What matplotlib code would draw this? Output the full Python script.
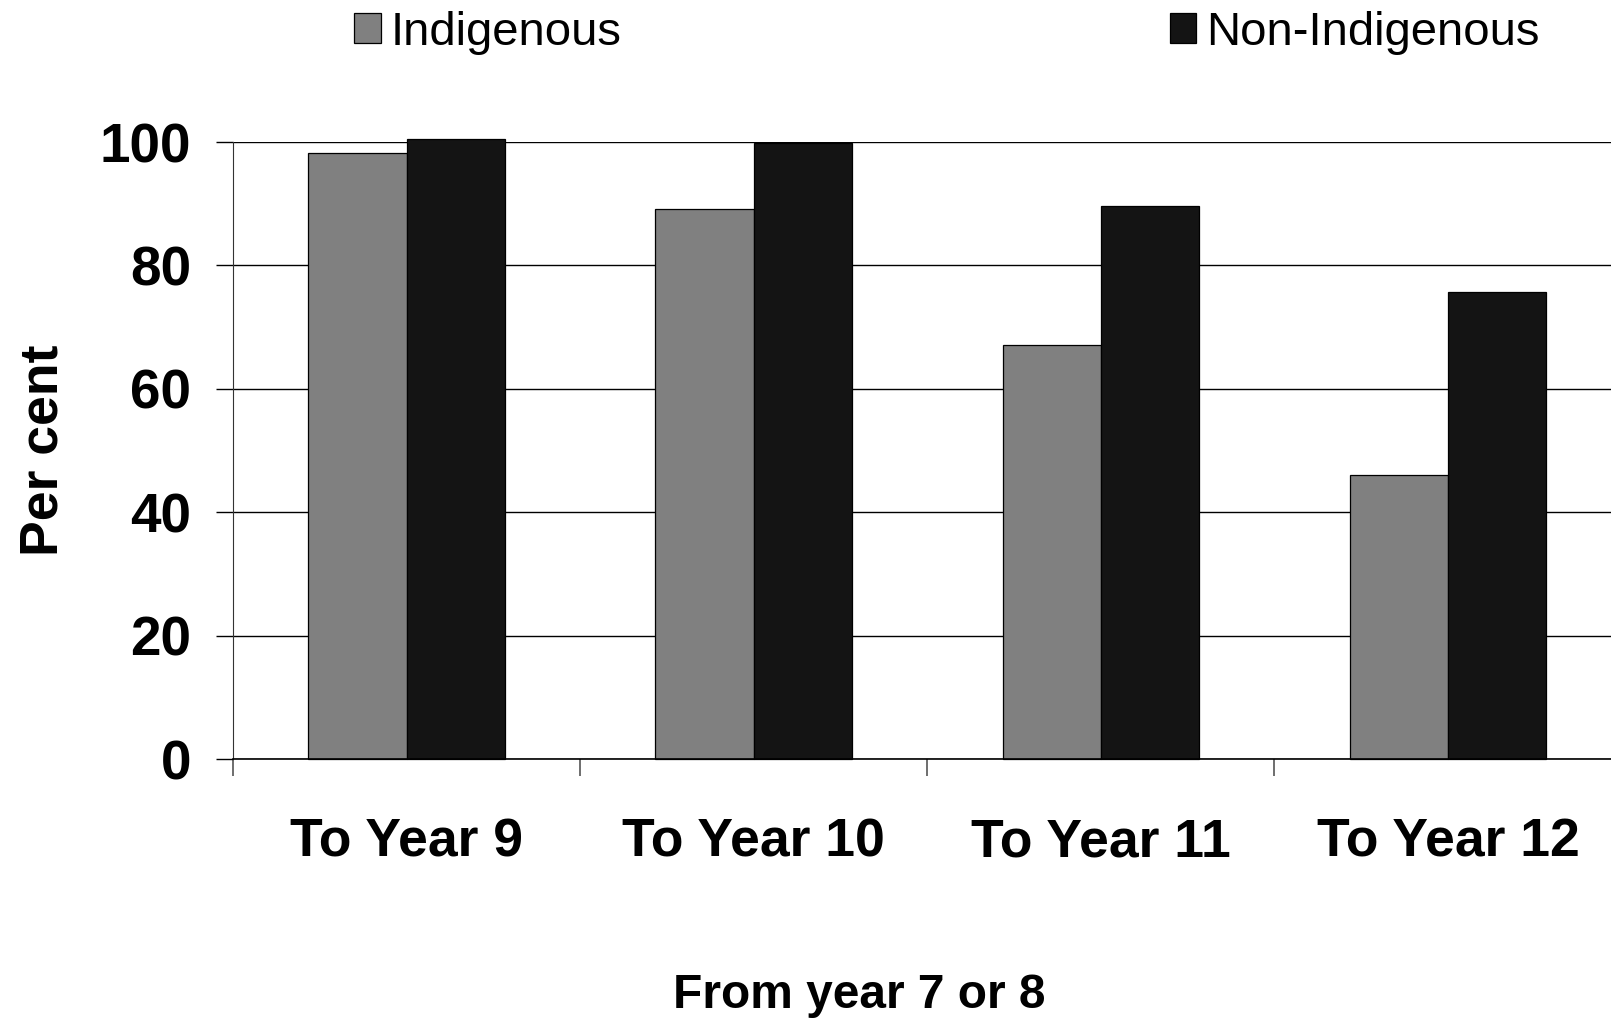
import matplotlib
matplotlib.use("Agg")
import matplotlib.pyplot as plt
import numpy as np

plt.rcParams['font.family'] = ['Liberation Sans', 'DejaVu Sans']

# Apparent retention rates
categories = ['To Year 9', 'To Year 10', 'To Year 11', 'To Year 12']
indigenous = [98.3, 89.2, 67.1, 46.1]
non_indigenous = [100.5, 99.9, 89.7, 75.7]

fig = plt.figure(figsize=(16.11, 10.21), dpi=100)
ax = fig.add_axes([0.1446, 0.2566, 0.862, 0.6043])

x = np.arange(len(categories))
w = 0.283
b1 = ax.bar(x - w/2, indigenous, w, color='#808080', edgecolor='black',
            linewidth=0.9, label='Indigenous', clip_on=False)
b2 = ax.bar(x + w/2, non_indigenous, w, color='#141414', edgecolor='black',
            linewidth=0.9, label='Non-Indigenous', clip_on=False)

ax.set_xlim(-0.5, 3.5)
ax.set_ylim(0, 100)
ax.set_yticks([0, 20, 40, 60, 80, 100])
ax.yaxis.grid(True, color='black', linewidth=1.0)
ax.set_axisbelow(True)

# category boundaries get the tick marks, labels sit at the centres
ax.set_xticks([-0.5, 0.5, 1.5, 2.5])
ax.set_xticklabels([])
ax.set_xticks(x, minor=True)
ax.set_xticklabels(categories, minor=True, fontsize=38.5, fontweight='bold')
ax.tick_params(axis='x', which='minor', length=0, pad=42)
ax.tick_params(axis='x', which='major', length=12, width=1.2, color='#555555')
ax.tick_params(axis='y', length=12, width=1.0, pad=18, labelsize=39.5)
for lbl in ax.get_yticklabels():
    lbl.set_fontweight('bold')

for s in ['top', 'right']:
    ax.spines[s].set_visible(False)
ax.spines['left'].set_color('#333333')
ax.spines['bottom'].set_color('black')
ax.spines['bottom'].set_linewidth(1.2)

ax.set_ylabel('Per cent', fontsize=38.5, fontweight='bold', va='center')
ax.yaxis.set_label_coords(-0.1365, 0.5)
ax.set_xlabel('From year 7 or 8', fontsize=34.5, fontweight='bold', va='center')
ax.xaxis.set_label_coords(0.4507, -0.3825)

fig.legend(handles=[b1, b2], loc='center left', bbox_to_anchor=(0.22, 0.968),
           ncol=2, frameon=False, fontsize=34, handlelength=0.57, handleheight=0.57,
           handletextpad=0.2, columnspacing=11.6, borderpad=0, borderaxespad=0,
           prop={'size': 34, 'weight': 'medium'})

fig.savefig('out.png', dpi=100)
